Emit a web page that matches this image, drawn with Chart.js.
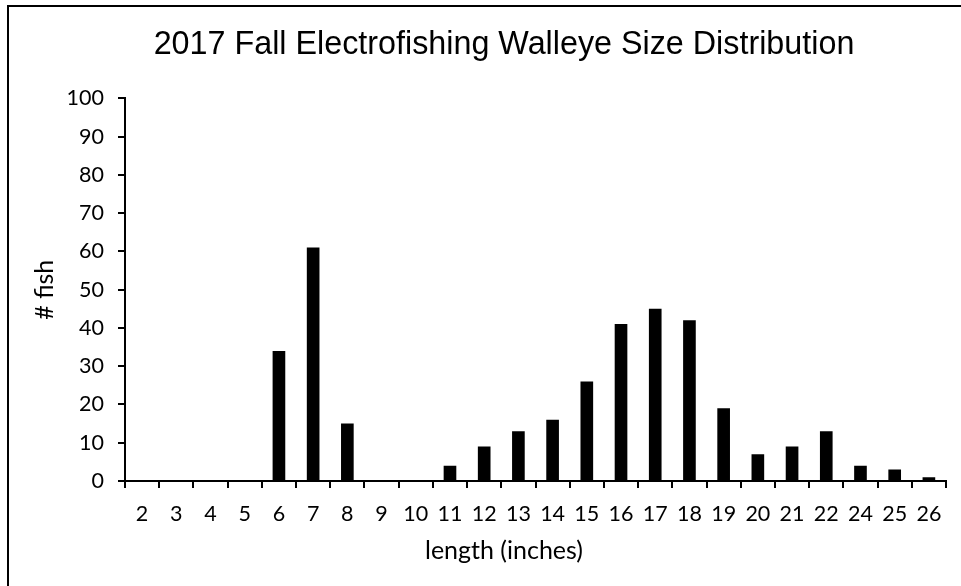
<!DOCTYPE html>
<html>
<head>
<meta charset="utf-8">
<script src="https://cdn.jsdelivr.net/npm/chart.js@4"></script>
<style>
    html, body { margin: 0; padding: 0; background: #fff; overflow: hidden; }
    .wrap { position: relative; width: 961px; height: 586px; }
    .frame {
        position: absolute; left: 7px; top: 5px; width: 1000px; height: 700px;
        border-left: 2px solid #000; border-top: 2px solid #000;
        box-sizing: border-box; pointer-events: none;
    }
</style>
</head>
<body>
<div class="wrap">
    <canvas id="chart" width="961" height="586"></canvas>
    <div class="frame"></div>
</div>
<script>
// Walleye length classes (note: no 23 in the source)
const lengths = ['2', '3', '4', '5', '6', '7', '8', '9', '10', '11', '12', '13',
                 '14', '15', '16', '17', '18', '19', '20', '21', '22', '24', '25', '26'];
const fishCounts = [0, 0, 0, 0, 34, 61, 15, 0, 0, 4, 9, 13,
                    16, 26, 41, 45, 42, 19, 7, 9, 13, 4, 3, 1];
const yTicks = [0, 10, 20, 30, 40, 50, 60, 70, 80, 90, 100];

const chartTitle = '2017 Fall Electrofishing Walleye Size Distribution';
const xTitle = 'length (inches)';
const yTitle = '# fish';

const tickFont = { family: 'Lato, "Open Sans", sans-serif', size: 21.5 };
const axisTitleFont = { family: 'Lato, "Open Sans", sans-serif', size: 25 };

new Chart(document.getElementById('chart'), {
    type: 'bar',
    data: {
        labels: lengths,
        datasets: [{
            data: fishCounts,
            backgroundColor: '#000',
            borderWidth: 0,
            barPercentage: 0.37,
            categoryPercentage: 1.0
        }]
    },
    options: {
        responsive: false,
        animation: false,
        layout: { padding: { left: 62, right: 15, top: 0, bottom: 0 } },
        plugins: {
            legend: { display: false },
            tooltip: { enabled: false },
            title: {
                display: true,
                text: chartTitle,
                color: '#000',
                font: { family: '"Liberation Sans", Arial, sans-serif', size: 32.3, weight: 'normal' },
                padding: { top: 26, bottom: 33.6 }
            },
            // x axis title, centred under the whole chart like the original
            subtitle: {
                display: true,
                position: 'bottom',
                text: xTitle,
                color: '#000',
                font: axisTitleFont,
                padding: { top: 0, bottom: 20 }
            }
        },
        scales: {
            x: {
                offset: true,
                grid: { display: true, drawOnChartArea: false, offset: true, color: '#000', lineWidth: 2, tickLength: 7 },
                border: { color: '#000', width: 2 },
                ticks: { color: '#000', font: tickFont, padding: 13, maxRotation: 0, autoSkip: false },
                afterFit: (scale) => { scale.height = 55; }
            },
            y: {
                min: 0,
                max: 100,
                afterBuildTicks: (scale) => { scale.ticks = yTicks.map(v => ({ value: v })); },
                grid: { display: true, drawOnChartArea: false, color: '#000', lineWidth: 2, tickLength: 7 },
                border: { color: '#000', width: 2 },
                ticks: { color: '#000', font: tickFont, padding: 14 },
                title: { display: true, text: yTitle, color: '#000', font: axisTitleFont, padding: { top: -32, bottom: 0 } },
                afterFit: (scale) => { scale.width = 63; }
            }
        }
    }
});
</script>
</body>
</html>
